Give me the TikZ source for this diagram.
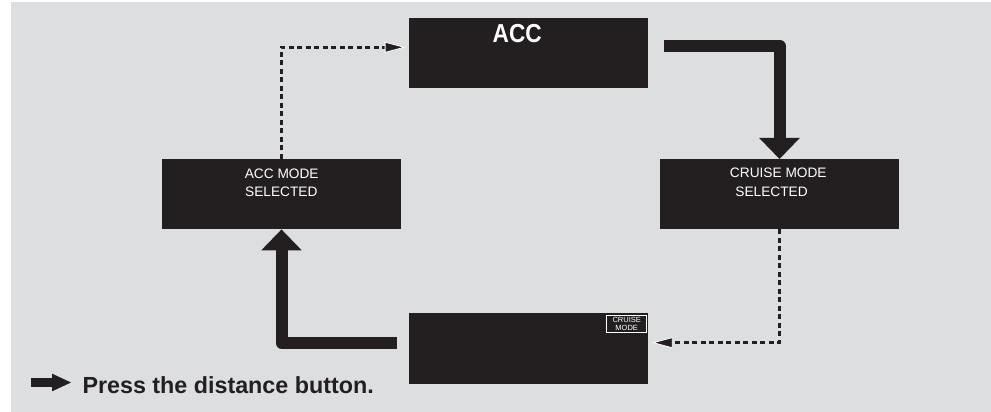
\documentclass[tikz,border=0pt]{standalone}
\usepackage{fontspec}
\setmainfont{Liberation Sans}
\usepackage{graphicx}
\usetikzlibrary{arrows.meta,calc}
\definecolor{ink}{HTML}{231F20}
\definecolor{panel}{HTML}{DDDEE0}
\begin{document}
\begin{tikzpicture}[x=1pt,y=1pt,
  screen/.style={fill=ink, draw=none, minimum width=239pt, minimum height=70.5pt, inner sep=0pt, outer sep=0pt},
  scrtext/.style={text=white, font=\fontsize{13.7}{16}\selectfont, inner sep=0pt, anchor=base},
  badgetext/.style={text=white, font=\fontsize{7.5}{8}\selectfont, inner sep=0pt, anchor=base},
  bigarrow/.style={draw=ink, line width=12pt, line join=round, -{Triangle[length=21pt,width=40.7pt,line width=0pt]}},
  dotarrow/.style={draw=ink, line width=2.7pt, dash pattern=on 5pt off 3.5pt, -{Triangle[length=21pt,width=11pt,line width=0.8pt,color=white,fill=ink]}},
]
\useasboundingbox (0,0) rectangle (991,412);
\fill[white] (0,0) rectangle (991,412);
\fill[panel] (11,0) rectangle (991,410);

\node[screen] (acc) at (528.5,358.8) {};
\node[screen] (accmode) at (281.5,217.8) {};
\node[screen] (cruise) at (779.5,217.8) {};
\node[screen] (bottom) at (528.5,63.7) {};

\node[text=white, inner sep=0pt, anchor=base, font=\fontsize{26}{26}\selectfont\bfseries] (acctitle) at (517.2,369.3) {\scalebox{0.87}[1]{ACC}};
\node[scrtext] (am1) at (281.7,233.7) {ACC MODE};
\node[scrtext] (am2) at (281.3,215.3) {SELECTED};
\node[scrtext] (cm1) at (778.3,234) {CRUISE MODE};
\node[scrtext] (cm2) at (771.6,215.5) {SELECTED};

\node[draw=white, line width=0.7pt, minimum width=40.7pt, minimum height=17.7pt, inner sep=0pt] (badge) at (626.4,88.2) {};
\node[badgetext] (b1) at (626.7,89.3) {CRUISE};
\node[badgetext] (b2) at (626.7,81.3) {MODE};

\draw[bigarrow] ([shift={(16,7.4)}]acc.east) -| (cruise.north);
\draw[bigarrow] ([shift={(-12.5,5.3)}]bottom.west) -| (accmode.south);
\draw[dotarrow] (accmode.north) |- ([shift={(-3.3,5.9)}]acc.west);
\draw[dotarrow] (cruise.south) |- ([shift={(3.7,5.6)}]bottom.east);

\coordinate (lg0) at (31,29.5);
\coordinate (lg1) at (71,29.5);
\draw[draw=ink, line width=8.7pt, -{Triangle[length=19pt,width=17.7pt,line width=0pt]}] (lg0) -- (lg1);
\node[anchor=base west, inner sep=0pt, text=ink, font=\fontsize{23.3}{24}\selectfont\bfseries] (legend) at (82.3,18.7) {Press the distance button.};
\end{tikzpicture}
\end{document}
